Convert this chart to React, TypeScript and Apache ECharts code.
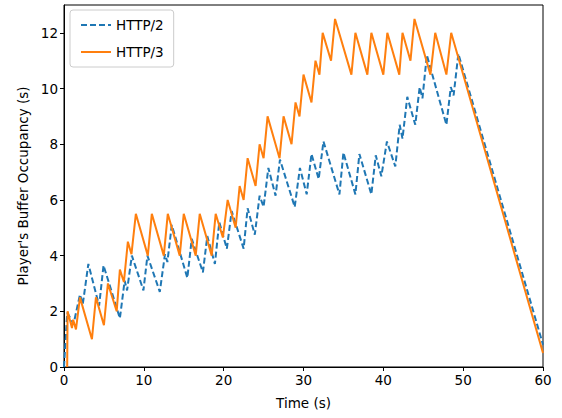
import React, { useEffect, useRef } from "react";
import * as echarts from "echarts";

const http2Time = [0, 0.4, 1.2, 2.0, 2.35, 3.05, 4.4, 4.95, 7.0, 7.6, 7.9, 8.5, 9.95, 10.45, 12.0, 12.65, 12.95, 13.5, 15.45, 16.0, 17.4, 17.95, 18.9, 19.45, 20.4, 21.0, 22.5, 23.0, 23.9, 24.5, 25.0, 25.6, 26.5, 27.05, 28.9, 29.55, 30.4, 31.0, 31.9, 32.5, 34.5, 35.0, 36.5, 37.0, 38.5, 39.05, 39.75, 40.45, 41.5, 42.05, 42.4, 43.0, 44.0, 44.55, 44.9, 45.45, 47.9, 48.45, 48.8, 49.4, 60];
const http2Buffer = [0, 1.95, 1.55, 2.6, 2.25, 3.7, 2.2, 3.65, 1.75, 3.1, 2.75, 4.0, 2.75, 4.0, 2.7, 4.05, 3.77, 5.1, 3.2, 4.6, 3.4, 4.7, 3.7, 5.2, 4.25, 5.6, 4.25, 5.7, 4.75, 6.15, 5.75, 7.15, 6.15, 7.45, 5.75, 7.15, 6.2, 7.65, 6.75, 8.1, 6.2, 7.7, 6.2, 7.65, 6.2, 7.6, 6.85, 8.1, 7.2, 8.7, 8.2, 9.7, 8.7, 10.05, 9.65, 11.2, 8.7, 10.05, 9.75, 11.25, 0.8];

const http3Time = [0.4, 0.45, 1.0, 1.15, 1.5, 2.0, 3.5, 4.0, 5.0, 5.5, 6.6, 7.0, 7.5, 8.0, 8.45, 9.0, 10.5, 11.0, 12.5, 13.0, 14.5, 15.0, 16.5, 17.0, 18.5, 19.0, 19.9, 20.5, 21.5, 22.0, 22.5, 23.0, 24.0, 24.5, 25.0, 25.5, 27.0, 27.5, 28.5, 29.0, 29.5, 30.0, 31.0, 31.5, 32.0, 32.4, 33.45, 33.95, 36.0, 36.5, 38.0, 38.5, 40.0, 40.5, 42.0, 42.4, 43.4, 43.9, 45.9, 46.5, 47.9, 48.5, 60];
const http3Buffer = [0, 2.0, 1.4, 1.7, 1.35, 2.5, 1.0, 2.5, 1.5, 3.0, 2.0, 3.5, 3.05, 4.5, 4.05, 5.5, 4.0, 5.5, 4.0, 5.5, 4.0, 5.5, 4.0, 5.5, 4.0, 5.5, 4.65, 6.0, 5.0, 6.5, 6.0, 7.5, 6.5, 8.0, 7.5, 9.0, 7.5, 9.0, 8.0, 9.5, 9.0, 10.5, 9.5, 11.0, 10.5, 12.0, 11.0, 12.5, 10.5, 12.0, 10.5, 12.0, 10.5, 12.0, 10.5, 12.0, 11.0, 12.5, 10.5, 12.0, 10.5, 12.0, 0.5];

const xTicks = [0, 10, 20, 30, 40, 50, 60];
const yTicks = [0, 2, 4, 6, 8, 10, 12];

const FONT = "DejaVu Sans";

export default function App() {
  const ref = useRef<HTMLDivElement>(null);
  useEffect(() => {
    if (!ref.current) return;
    const chart = echarts.init(ref.current, undefined, { renderer: "svg" });
    const pair = (xs: number[], ys: number[]) => xs.map((x, i) => [x, ys[i]]);
    chart.setOption({
      animation: false,
      backgroundColor: "#ffffff",
      grid: {
        left: 64,
        right: 19,
        top: 5,
        bottom: 51,
        show: true,
        borderColor: "#000",
        borderWidth: 1,
        backgroundColor: "transparent",
      },
      legend: {
        show: true,
        orient: "vertical",
        left: 70,
        top: 10,
        padding: [8, 10, 8, 10],
        itemGap: 13,
        itemWidth: 30,
        itemHeight: 14,
        borderColor: "#cccccc",
        borderWidth: 1,
        borderRadius: 3,
        backgroundColor: "rgba(255,255,255,0.8)",
        itemStyle: { opacity: 0 },
        textStyle: { fontFamily: FONT, fontSize: 13.5, color: "#000" },
        data: ["HTTP/2", "HTTP/3"],
      },
      xAxis: {
        type: "value",
        min: 0,
        max: 60,
        interval: 10,
        name: "Time (s)",
        nameLocation: "middle",
        nameGap: 29,
        nameTextStyle: { fontFamily: FONT, fontSize: 13.5, color: "#000" },
        axisLine: { show: true, lineStyle: { color: "#000", width: 1 } },
        axisTick: { show: true, length: 4, inside: false, lineStyle: { color: "#000" }, customValues: xTicks },
        axisLabel: { fontFamily: FONT, fontSize: 13.5, color: "#000", margin: 6, customValues: xTicks },
        splitLine: { show: false },
      },
      yAxis: {
        type: "value",
        min: 0,
        max: 13,
        interval: 2,
        name: "Player's Buffer Occupancy (s)",
        nameLocation: "middle",
        nameRotate: 90,
        nameGap: 34,
        nameTextStyle: { fontFamily: FONT, fontSize: 13.5, color: "#000" },
        axisLine: { show: true, lineStyle: { color: "#000", width: 1 } },
        axisTick: { show: true, length: 4, inside: false, lineStyle: { color: "#000" }, customValues: yTicks },
        axisLabel: { fontFamily: FONT, fontSize: 13.5, color: "#000", margin: 6, customValues: yTicks },
        splitLine: { show: false },
      },
      series: [
        {
          name: "HTTP/2",
          type: "line",
          data: pair(http2Time, http2Buffer),
          symbol: "none",
          color: "#1f77b4",
          lineStyle: { color: "#1f77b4", width: 2, type: [6, 3] },
          clip: true,
        },
        {
          name: "HTTP/3",
          type: "line",
          data: pair(http3Time, http3Buffer),
          symbol: "none",
          color: "#ff7f0e",
          lineStyle: { color: "#ff7f0e", width: 2, type: "solid" },
          clip: true,
        },
      ],
    });
    return () => chart.dispose();
  }, []);
  return <div ref={ref} style={{ width: 562, height: 418, position: "absolute", left: 0, top: 0 }} />;
}
